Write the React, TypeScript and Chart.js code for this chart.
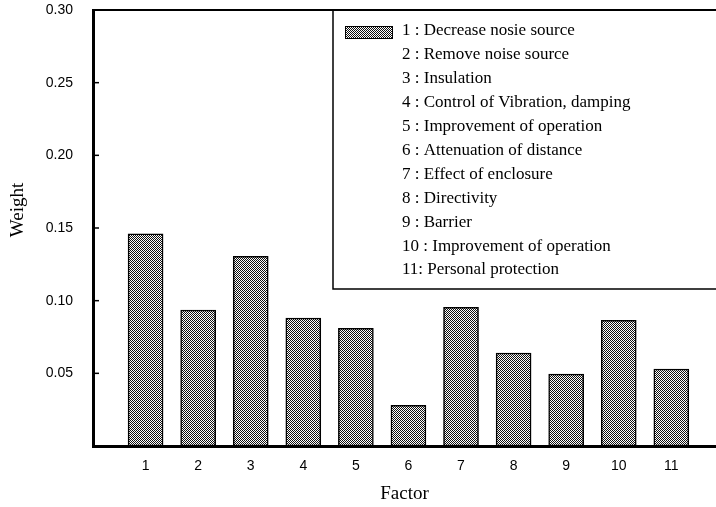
import React, { useEffect, useRef } from 'react';
import { Chart, registerables } from 'chart.js';

Chart.register(...registerables);

const factors = [1, 2, 3, 4, 5, 6, 7, 8, 9, 10, 11];
const weights = [0.146, 0.0935, 0.1305, 0.088, 0.081, 0.028, 0.0955, 0.064, 0.0495, 0.0865, 0.053];
const yTickValues = [0.05, 0.1, 0.15, 0.2, 0.25, 0.3];
const legendLabels = [
  '1 : Decrease nosie source',
  '2 : Remove noise source',
  '3 : Insulation',
  '4 : Control of Vibration, damping',
  '5 : Improvement of operation',
  '6 : Attenuation of distance',
  '7 : Effect of enclosure',
  '8 : Directivity',
  '9 : Barrier',
  '10 : Improvement of operation',
  '11: Personal protection',
];
const xTitle = 'Factor';
const yTitle = 'Weight';

function makePattern(): CanvasPattern | string {
  const c = document.createElement('canvas');
  c.width = 2;
  c.height = 2;
  const g = c.getContext('2d');
  if (!g) return '#888';
  g.fillStyle = '#ffffff';
  g.fillRect(0, 0, 2, 2);
  g.fillStyle = '#111111';
  g.fillRect(0, 0, 1, 1);
  g.fillRect(1, 1, 1, 1);
  const p = g.createPattern(c, 'repeat');
  return p || '#888';
}

export default function App() {
  const ref = useRef<HTMLCanvasElement>(null);

  useEffect(() => {
    document.body.style.margin = '0';
    const canvas = ref.current;
    if (!canvas) return;
    const pattern = makePattern();

    const framePlugin = {
      id: 'framePlugin',
      afterDraw(chart: any) {
        const ctx = chart.ctx;
        const area = chart.chartArea;
        const yScale = chart.scales.y;
        ctx.save();
        ctx.strokeStyle = '#000';
        // top line
        ctx.lineWidth = 2;
        ctx.beginPath();
        ctx.moveTo(area.left, area.top);
        ctx.lineTo(chart.width, area.top);
        ctx.stroke();
        // inward ticks on y axis
        ctx.lineWidth = 1.5;
        yTickValues.forEach((v) => {
          if (v >= 0.3) return;
          const y = yScale.getPixelForValue(v);
          ctx.beginPath();
          ctx.moveTo(area.left, y);
          ctx.lineTo(area.left + 6, y);
          ctx.stroke();
        });
        // legend box
        const boxLeft = 333;
        const boxBottom = 289;
        ctx.lineWidth = 1.5;
        ctx.beginPath();
        ctx.moveTo(boxLeft, area.top);
        ctx.lineTo(boxLeft, boxBottom);
        ctx.lineTo(chart.width, boxBottom);
        ctx.stroke();
        // swatch
        ctx.fillStyle = pattern as any;
        ctx.fillRect(345, 26, 47, 12);
        ctx.lineWidth = 1;
        ctx.strokeRect(345.5, 26.5, 47, 12);
        // texts
        ctx.fillStyle = '#000';
        ctx.font = '17px "Liberation Serif", "Times New Roman", serif';
        ctx.textBaseline = 'middle';
        ctx.textAlign = 'left';
        legendLabels.forEach((t, i) => {
          ctx.fillText(t, 402, 31 + i * 23.9);
        });
        // y title
        ctx.save();
        ctx.translate(18, 210);
        ctx.rotate(-Math.PI / 2);
        ctx.textAlign = 'center';
        ctx.textBaseline = 'middle';
        ctx.font = '19px "Liberation Serif", "Times New Roman", serif';
        ctx.fillText(yTitle, 0, 0);
        ctx.restore();
        ctx.restore();
      },
    };

    const chart = new Chart(canvas, {
      type: 'bar',
      data: {
        datasets: [
          {
            label: 'Weight',
            data: factors.map((f, i) => ({ x: f, y: weights[i] })),
            backgroundColor: pattern as any,
            borderColor: '#000',
            borderWidth: 1.5,
            borderSkipped: false,
            barThickness: 35,
          },
        ],
      },
      options: {
        animation: false,
        responsive: true,
        maintainAspectRatio: false,
        layout: { padding: { top: 10, right: 0, left: 0, bottom: 0 } },
        plugins: {
          legend: { display: false },
          tooltip: { enabled: false },
        },
        scales: {
          x: {
            type: 'linear',
            min: 0,
            max: 11.85,
            offset: false,
            afterFit: (s: any) => {
              s.height = 61;
              s.paddingLeft = 0;
              s.paddingRight = 0;
            },
            afterBuildTicks: (s: any) => {
              s.ticks = factors.map((v) => ({ value: v }));
            },
            grid: { display: false, drawTicks: false, tickLength: 0 },
            border: { display: true, color: '#000', width: 3 },
            ticks: {
              padding: 12,
              color: '#000',
              font: { family: '"Liberation Sans", Arial, sans-serif', size: 14 },
              callback: (v: any) => String(v),
              maxRotation: 0,
              autoSkip: false,
            },
            title: {
              display: true,
              text: xTitle,
              color: '#000',
              padding: 2,
              font: { family: '"Liberation Serif", "Times New Roman", serif', size: 19 },
            },
          },
          y: {
            min: 0,
            max: 0.3,
            afterFit: (s: any) => {
              s.width = 93;
              s.paddingTop = 0;
              s.paddingBottom = 0;
            },
            afterBuildTicks: (s: any) => {
              s.ticks = yTickValues.map((v) => ({ value: v }));
            },
            grid: { display: false, drawTicks: false, tickLength: 0 },
            border: { display: true, color: '#000', width: 3 },
            ticks: {
              padding: 20,
              color: '#000',
              font: { family: '"Liberation Sans", Arial, sans-serif', size: 14 },
              callback: (v: any) => Number(v).toFixed(2),
            },
            title: { display: false },
          },
        },
      },
      plugins: [framePlugin],
    });

    return () => {
      chart.destroy();
    };
  }, []);

  return (
    <div style={{ width: 716, height: 507, position: 'relative' }}>
      <canvas ref={ref} />
    </div>
  );
}
